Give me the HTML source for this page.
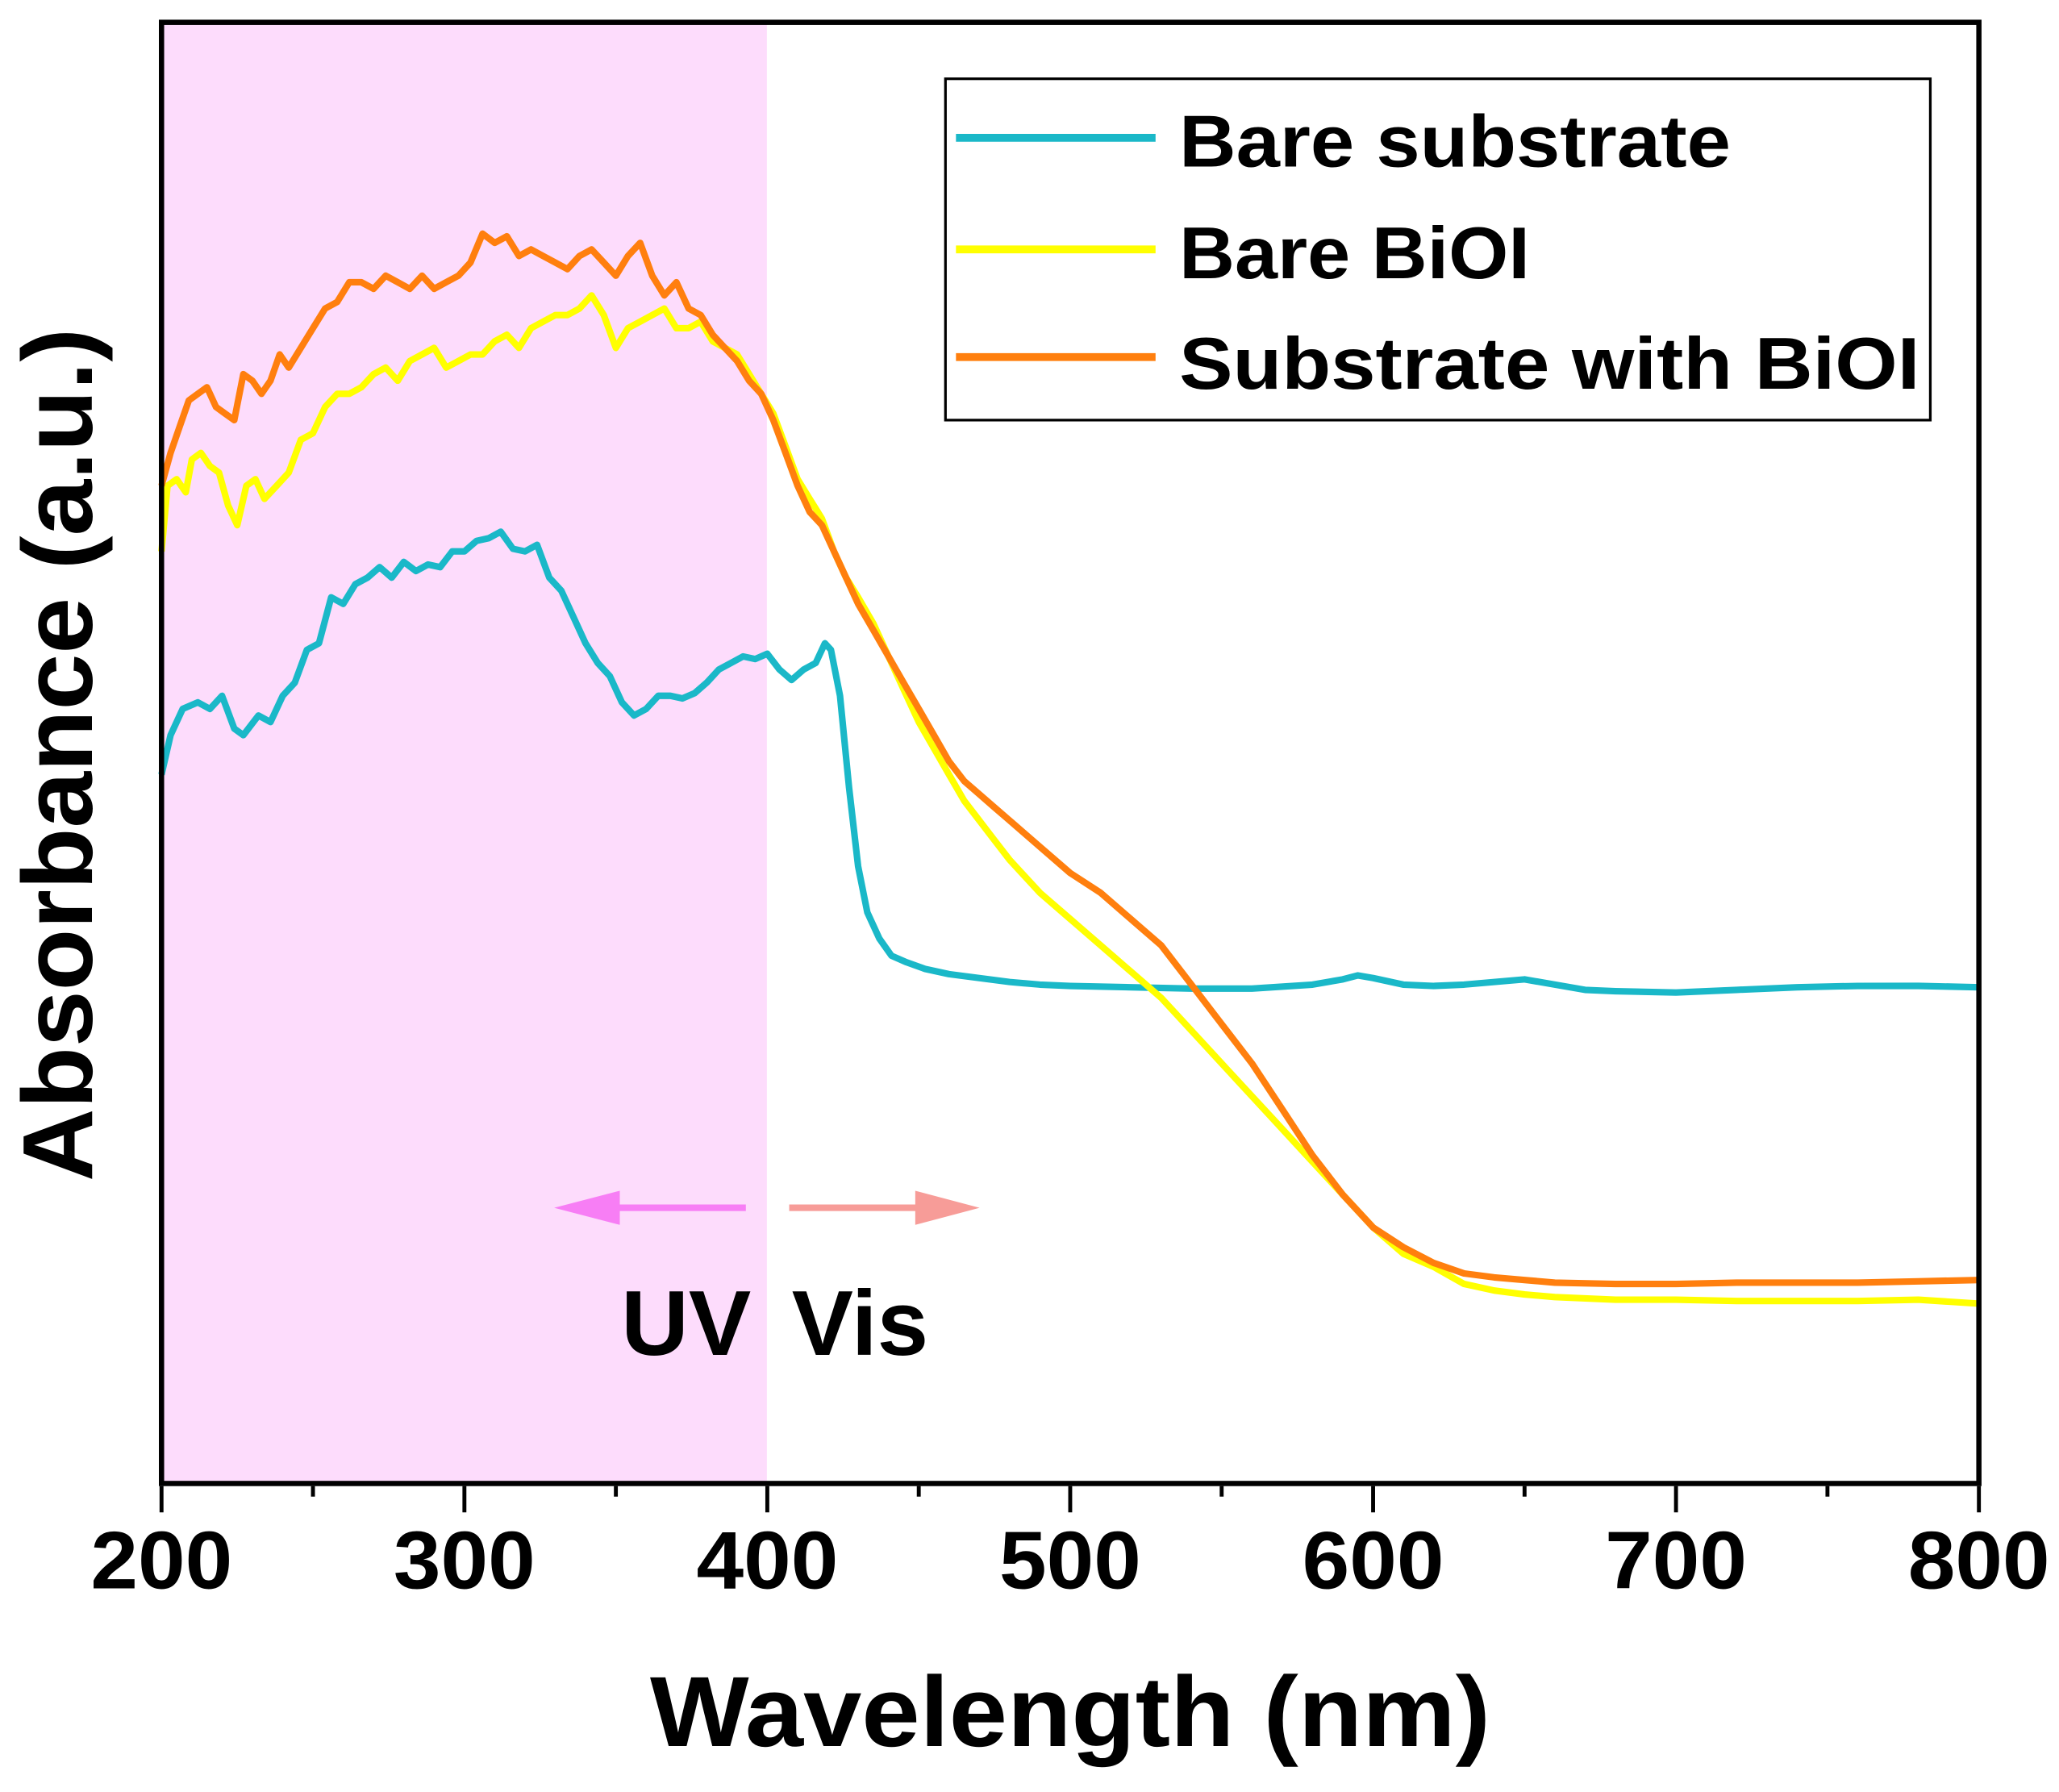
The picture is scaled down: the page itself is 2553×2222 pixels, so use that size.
<!DOCTYPE html>
<html><head><meta charset="utf-8"><style>
html,body{margin:0;padding:0;background:#fff;}
svg{display:block;}
text{font-family:"Liberation Sans",sans-serif;font-weight:bold;fill:#000;}
</style></head><body>
<svg id="chart" width="2553" height="2222" viewBox="0 0 1568 1365" preserveAspectRatio="none" xmlns="http://www.w3.org/2000/svg">
<rect x="123" y="17" width="461" height="1113" fill="#fddcfc"/>
<g id="series"></g>
<rect x="123" y="17" width="1384" height="1113" fill="none" stroke="#000" stroke-width="4"/>
<g id="ticks"></g>
<text x="815" y="1330" font-size="76" text-anchor="middle" textLength="640" lengthAdjust="spacingAndGlyphs">Wavelength (nm)</text>
<text transform="translate(70,575) rotate(-90)" font-size="76" text-anchor="middle" textLength="650" lengthAdjust="spacingAndGlyphs">Absorbance (a.u.)</text>
<g>
<rect x="720" y="60" width="750" height="260" fill="#fff" stroke="#000" stroke-width="2"/>
<line x1="728" y1="105" x2="880" y2="105" stroke="#1ab8c8" stroke-width="6"/>
<text x="898" y="127" font-size="56" textLength="420" lengthAdjust="spacingAndGlyphs">Bare substrate</text>
<line x1="728" y1="190" x2="880" y2="190" stroke="#ffff00" stroke-width="6"/>
<text x="898" y="212" font-size="56" textLength="267" lengthAdjust="spacingAndGlyphs">Bare BiOI</text>
<line x1="728" y1="272" x2="880" y2="272" stroke="#ff7f0e" stroke-width="6"/>
<text x="898" y="296" font-size="56" textLength="564" lengthAdjust="spacingAndGlyphs">Substrate with BiOI</text>
</g>
<g>
<line x1="568" y1="920" x2="465" y2="920" stroke="#f77ef5" stroke-width="5"/>
<polygon points="422,920 472,907 472,933" fill="#f77ef5"/>
</g>
<g>
<line x1="601" y1="920" x2="705" y2="920" stroke="#f79c98" stroke-width="5"/>
<polygon points="746,920 697,907 697,933" fill="#f79c98"/>
</g>
<text x="473" y="1032" font-size="70" textLength="99" lengthAdjust="spacingAndGlyphs">UV</text>
<text x="603" y="1032" font-size="70" textLength="104" lengthAdjust="spacingAndGlyphs">Vis</text>
</svg>
<script>
const tickValues=[200,250,300,350,400,450,500,550,600,650,700,750,800];
const tickLabels=["200","300","400","500","600","700","800"];
const wlCyan=[200,203,207,212,216,220,224,227,232,236,240,244,248,252,256,260,264,268,272,276,280,284,288,292,296,300,304,308,312,316,320,324,328,332,336,340,344,348,352,356,360,364,368,372,376,380,384,388,392,396,400,404,408,412,416,419,421,424,427,430,433,437,441,446,452,460,470,480,490,500,520,540,560,580,590,595,600,610,620,630,640,650,660,670,680,700,720,740,760,780,800];
const absCyan=[540,570,590,595,590,600,575,570,585,580,600,610,635,640,675,670,685,690,698,690,702,695,700,698,710,710,718,720,725,712,710,715,690,680,660,640,625,615,595,585,590,600,600,598,602,610,620,625,630,628,632,620,612,620,625,640,635,600,530,470,435,415,402,397,392,388,385,382,380,379,378,377,377,380,384,387,385,380,379,380,382,384,380,376,375,374,376,378,379,379,378];
const wlBiOI=[200,202,205,208,210,213,216,219,222,225,228,231,234,238,242,246,250,254,258,262,266,270,274,278,282,286,290,294,298,302,306,310,314,318,322,326,330,334,338,342,346,350,354,358,362,366,370,374,378,382,386,390,394,398,402,406,410,414,418,422,426,430,435,440,445,450,455,460,465,470,475,480,490,500,510,520,530,540,550,560,570,580,590,600,610,620,630,640,650,660,680,700,720,740,760,780,800];
const absBiOI=[710,760,765,755,780,785,775,770,745,730,760,765,750,760,770,795,800,820,830,830,835,845,850,840,855,860,865,850,855,860,860,870,875,865,880,885,890,890,895,905,890,865,880,885,890,895,880,880,885,870,865,860,845,830,815,790,765,750,735,710,690,675,655,630,605,580,560,540,520,505,490,475,450,430,410,390,370,345,320,295,270,245,220,195,175,165,152,147,144,142,140,140,139,139,139,140,137];
const wlCombo=[200,203,206,209,212,215,218,221,224,227,230,233,236,239,242,246,250,254,258,262,266,270,274,278,282,286,290,294,298,302,306,310,314,318,322,326,330,334,338,342,346,350,354,358,362,366,370,374,378,382,386,390,394,398,402,406,410,414,418,422,426,430,435,440,445,450,455,460,465,470,475,480,490,500,510,520,530,540,550,560,570,580,590,600,610,620,630,640,650,660,680,700,720,740,760,780,800];
const absCombo=[760,785,805,825,830,835,820,815,810,845,840,830,840,860,850,865,880,895,900,915,915,910,920,915,910,920,910,915,920,930,952,945,950,935,940,935,930,925,935,940,930,920,935,945,920,905,915,895,890,875,865,855,840,830,810,785,760,740,730,710,690,670,650,630,610,590,570,550,535,525,515,505,485,465,450,430,410,380,350,320,285,250,220,195,180,168,160,157,155,153,152,152,153,153,153,154,155];

const NS="http://www.w3.org/2000/svg";
const xScale=w=>123+(w-200)*(1384/600);
const yScale=v=>1130-v;
const sg=document.getElementById('series');
function drawLine(wl,vals,color,name){
  const p=document.createElementNS(NS,'path');
  let d='';
  for(let i=0;i<wl.length;i++){d+=(i?'L':'M')+xScale(wl[i]).toFixed(1)+','+yScale(vals[i]).toFixed(1);}
  p.setAttribute('d',d);
  p.setAttribute('fill','none');
  p.setAttribute('stroke',color);
  p.setAttribute('stroke-width','5');
  p.setAttribute('stroke-linejoin','round');
  
  
  sg.appendChild(p);
}
drawLine(wlCyan,absCyan,'#1ab8c8','bare-substrate-line');
drawLine(wlBiOI,absBiOI,'#ffff00','bare-bioi-line');
drawLine(wlCombo,absCombo,'#ff7f0e','substrate-with-bioi-line');

const tg=document.getElementById('ticks');
tickValues.forEach(t=>{
  const major=(t%100===0);
  const l=document.createElementNS(NS,'line');
  l.setAttribute('x1',xScale(t));l.setAttribute('x2',xScale(t));
  l.setAttribute('y1',1132);l.setAttribute('y2',major?1152:1140);
  l.setAttribute('stroke','#000');l.setAttribute('stroke-width','3');
  
  
  tg.appendChild(l);
});
tickLabels.forEach(s=>{
  const tx=document.createElementNS(NS,'text');
  tx.setAttribute('x',xScale(+s));tx.setAttribute('y',1210);
  tx.setAttribute('font-size','62');tx.setAttribute('text-anchor','middle');
  tx.setAttribute('textLength','108');tx.setAttribute('lengthAdjust','spacingAndGlyphs');
  tx.textContent=s;
  
  
  tg.appendChild(tx);
});
</script>
</body></html>
